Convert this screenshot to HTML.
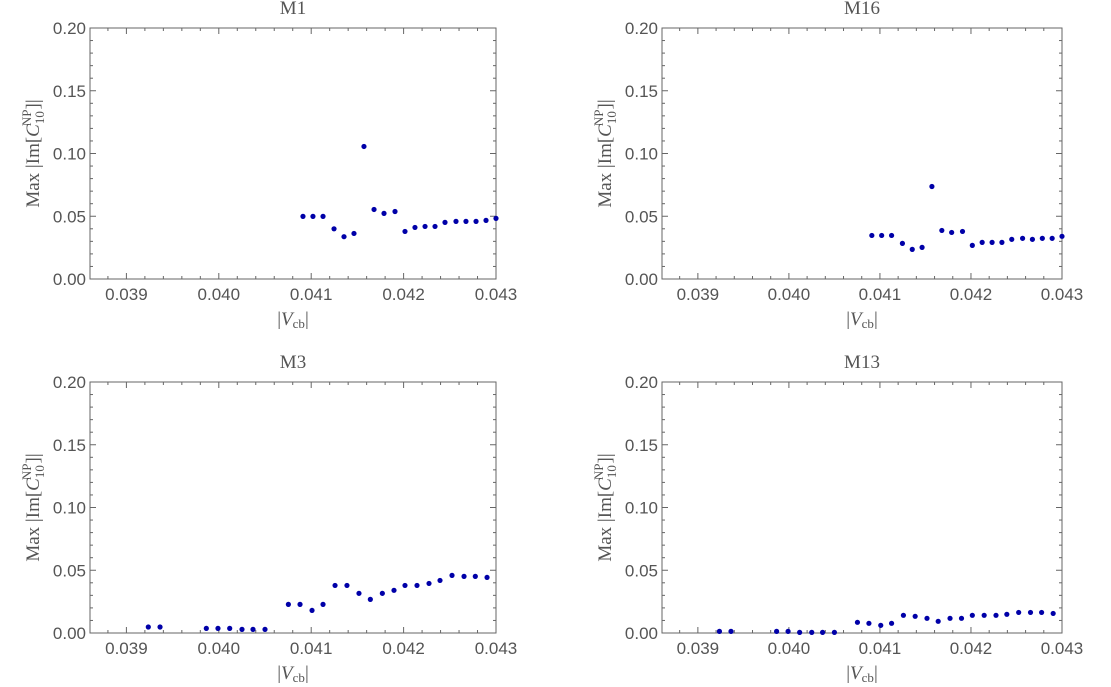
<!DOCTYPE html>
<html><head><meta charset="utf-8"><style>
body{margin:0;background:#fff;}
svg{display:block;}
.tk{font-family:"Liberation Sans",sans-serif;font-size:17px;fill:#555;}
.sr{font-family:"Liberation Serif",serif;fill:#555;}
</style></head><body>
<svg id="chart" width="1111" height="687" xmlns="http://www.w3.org/2000/svg"></svg>
<script>
const xA=[0.040911,0.041019,0.041128,0.041247,0.041355,0.041463,0.041571,0.041680,0.041788,0.041907,0.042015,0.042123,0.042232,0.042340,0.042448,0.042567,0.042675,0.042784,0.042892,0.043];
const m1Values=[0.0499,0.0499,0.0499,0.040,0.0337,0.0363,0.1056,0.0554,0.0523,0.0538,0.0379,0.0411,0.0419,0.0419,0.0451,0.0459,0.0459,0.0459,0.0467,0.0483];
const m16Values=[0.0347,0.0347,0.0347,0.0284,0.0236,0.0252,0.0737,0.0387,0.0371,0.0379,0.0268,0.0292,0.0292,0.0292,0.0316,0.0324,0.0316,0.0324,0.0324,0.034];
const xB=[0.039237,0.039364,0.039865,0.039991,0.040118,0.040251,0.040370,0.040500,0.040753,0.040879,0.041009,0.041128,0.041258,0.041387,0.041517,0.041640,0.041770,0.041896,0.042015,0.042145,0.042275,0.042394,0.042524,0.042654,0.042776,0.042903];
const m3Values=[0.0048,0.0048,0.0037,0.0037,0.0037,0.0029,0.0029,0.0029,0.0228,0.0228,0.018,0.0228,0.0379,0.0379,0.0316,0.0268,0.0316,0.034,0.0379,0.0379,0.0395,0.0419,0.0459,0.0451,0.0451,0.0443];
const m13Values=[0.0013,0.0013,0.0013,0.0013,0.0005,0.0005,0.0005,0.0005,0.0085,0.0077,0.0061,0.0077,0.0141,0.0133,0.0117,0.0093,0.0117,0.0117,0.0141,0.0141,0.0141,0.0149,0.0164,0.0164,0.0164,0.0156];
const xTickLabels=["0.039","0.040","0.041","0.042","0.043"];
const xTickVals=[0.039,0.040,0.041,0.042,0.043];
const yTickLabels=["0.00","0.05","0.10","0.15","0.20"];
const yTickVals=[0,0.05,0.10,0.15,0.20];
const XMIN=0.038606,XMAX=0.043,YMIN=0,YMAX=0.2;
const NS="http://www.w3.org/2000/svg";
const svg=document.getElementById('chart');
function mk(t,a,p){const e=document.createElementNS(NS,t);for(const k in a)e.setAttribute(k,a[k]);(p||svg).appendChild(e);return e;}
function panel(key,title,L,R,T,B,xs,ys){
  const g=mk('g',{});
  
  
  const sx=v=>L+(v-XMIN)/(XMAX-XMIN)*(R-L);
  const sy=v=>B-(v-YMIN)/(YMAX-YMIN)*(B-T);
  const fr=mk('rect',{x:L,y:T,width:R-L,height:B-T,fill:'none',stroke:'#666','stroke-width':1},g);
  
  
  for(let i=0;i<=21;i++){const v=0.0388+i*0.0002;if(v>XMAX+1e-9)break;const x=sx(v);const maj=Math.abs(v*1000-Math.round(v*1000))<1e-6;const l=maj?6:3;
    mk('line',{x1:x,y1:B,x2:x,y2:B-l,stroke:'#666'},g);mk('line',{x1:x,y1:T,x2:x,y2:T+l,stroke:'#666'},g);}
  for(let i=0;i<=20;i++){const v=i*0.01;const y=sy(v);const l=(i%5==0)?6:3;
    mk('line',{x1:L,y1:y,x2:L+l,y2:y,stroke:'#666'},g);mk('line',{x1:R,y1:y,x2:R-l,y2:y,stroke:'#666'},g);}
  xTickVals.forEach((v,i)=>{const t=mk('text',{x:sx(v),y:B+21,'text-anchor':'middle',class:'tk'},g);t.textContent=xTickLabels[i];
    
    });
  yTickVals.forEach((v,i)=>{const t=mk('text',{x:L-4,y:sy(v)+6,'text-anchor':'end',class:'tk'},g);t.textContent=yTickLabels[i];
    
    });
  const tt=mk('text',{x:(L+R)/2,y:T-14,'text-anchor':'middle',class:'sr','font-size':19},g);tt.textContent=title;
  
  
  const xl=mk('text',{x:(L+R)/2,y:B+46,'text-anchor':'middle',class:'sr','font-size':19},g);
  xl.innerHTML='|<tspan font-style="italic">V</tspan><tspan font-size="13" dy="3">cb</tspan><tspan dy="-3">|</tspan>';
  
  
  const cy=(T+B)/2,cx=L-51;
  const yl=mk('text',{x:cx,y:cy,'text-anchor':'middle',class:'sr','font-size':19,transform:`rotate(-90 ${cx} ${cy})`},g);
  yl.innerHTML='Max |Im[<tspan font-style="italic">C</tspan><tspan font-size="13" dy="5">10</tspan><tspan font-size="13" dx="-15" dy="-13">NP</tspan><tspan dy="8">]|</tspan>';
  
  
  xs.forEach((v,i)=>{const c=mk('circle',{cx:sx(v),cy:sy(ys[i]),r:2.6,fill:'#0000a8'},g);
    
    });
}
panel('m1','M1',90,496,28,279,xA,m1Values);
panel('m16','M16',662,1062,28,279,xA,m16Values);
panel('m3','M3',90,496,382,633,xB,m3Values);
panel('m13','M13',662,1062,382,633,xB,m13Values);
</script>
</body></html>
